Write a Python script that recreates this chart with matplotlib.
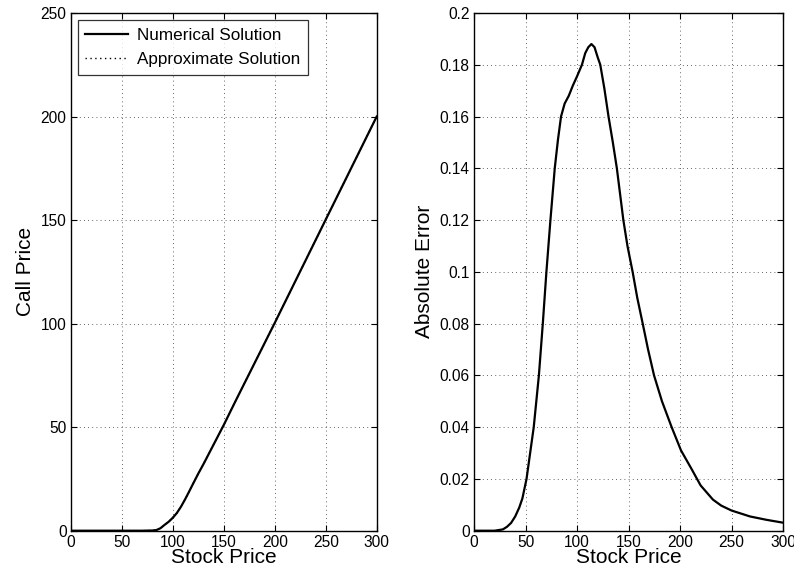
import matplotlib
matplotlib.use("Agg")
import matplotlib.pyplot as plt

plt.rcParams['font.family'] = ['Liberation Sans', 'DejaVu Sans']

# Left panel: call price vs stock price
stock_call = [0, 25, 50, 70, 80, 84, 88, 92, 96, 100, 104, 108, 112, 116, 120, 125, 130,
              140, 150, 162, 200, 250, 300]
call_price = [0, 0, 0, 0, 0.1, 0.3, 1.2, 2.8, 4.3, 6.2, 8.5, 11.5, 15, 18.8, 22.7, 27.5, 32,
              41.5, 51, 63, 100.3, 150.2, 200]
approx_price = call_price

# Right panel: absolute error
stock_err = [0, 20, 28, 32, 36, 40, 44, 47, 51, 54.5, 58, 63, 66.8, 70.3, 74.2, 78.4, 81.5,
             84.5, 88, 92, 96, 100, 104.8, 108, 111, 114, 117, 120, 122.6, 126.5, 130.6,
             134.8, 138.7, 145, 149, 154, 158.5, 163.8, 169, 174.8, 182.5, 191.9, 201, 211,
             220, 232, 240, 250, 268, 284, 300]
abs_error = [0, 0, 0.0005, 0.0015, 0.003, 0.0055, 0.009, 0.0125, 0.02, 0.03, 0.04, 0.06, 0.08,
             0.1, 0.12, 0.14, 0.151, 0.16, 0.165, 0.168, 0.172, 0.1755, 0.18, 0.1845, 0.1868,
             0.188, 0.1868, 0.183, 0.18, 0.171, 0.16, 0.15, 0.14, 0.12, 0.11, 0.1, 0.09, 0.08,
             0.07, 0.06, 0.05, 0.04, 0.031, 0.024, 0.0175, 0.012, 0.0097, 0.0078, 0.0055,
             0.0042, 0.0031]

x_ticks = [0, 50, 100, 150, 200, 250, 300]
call_ticks = [0, 50, 100, 150, 200, 250]
err_ticks = [0, 0.02, 0.04, 0.06, 0.08, 0.1, 0.12, 0.14, 0.16, 0.18, 0.2]
err_tick_labels = ['0', '0.02', '0.04', '0.06', '0.08', '0.1', '0.12', '0.14', '0.16', '0.18', '0.2']

fig = plt.figure(figsize=(7.94, 5.78), dpi=100)
ax1 = fig.add_axes([70.7 / 794, (578 - 530.7) / 578, 306 / 794, 517.7 / 578])
ax2 = fig.add_axes([474 / 794, (578 - 530.7) / 578, 309 / 794, 517.7 / 578])

def style(ax):
    ax.grid(True, linestyle=(0, (1, 4)), color='black', linewidth=0.6, alpha=0.8)
    ax.tick_params(direction='in', top=True, right=True, length=4, width=0.8,
                   labelsize=11.2, pad=3)
    for s in ax.spines.values():
        s.set_linewidth(1.0)
        s.set_color('black')
    ax.set_axisbelow(True)

ax1.plot(stock_call, call_price, color='black', lw=1.6, label='Numerical Solution')
ax1.plot(stock_call, approx_price, color='black', lw=1.0, linestyle=(0, (1, 2.5)),
         label='Approximate Solution')
ax1.set_xlim(0, 300)
ax1.set_ylim(0, 250)
ax1.set_xticks(x_ticks)
ax1.set_yticks(call_ticks)
ax1.set_xlabel('Stock Price', fontsize=15, labelpad=-1)
ax1.set_ylabel('Call Price', fontsize=15, labelpad=4)
style(ax1)
leg = ax1.legend(loc='upper left', fontsize=12.3, handlelength=2.5, frameon=True,
                 fancybox=False, edgecolor='black', borderpad=0.45, labelspacing=0.55,
                 handletextpad=0.55, borderaxespad=0.4)
leg.get_frame().set_linewidth(0.9)

ax2.plot(stock_err, abs_error, color='black', lw=1.6)
ax2.set_xlim(0, 300)
ax2.set_ylim(0, 0.2)
ax2.set_xticks(x_ticks)
ax2.set_yticks(err_ticks)
ax2.set_yticklabels(err_tick_labels)
ax2.set_xlabel('Stock Price', fontsize=15, labelpad=-1)
ax2.set_ylabel('Absolute Error', fontsize=15, labelpad=4)
style(ax2)

fig.savefig('out.png', dpi=100)
